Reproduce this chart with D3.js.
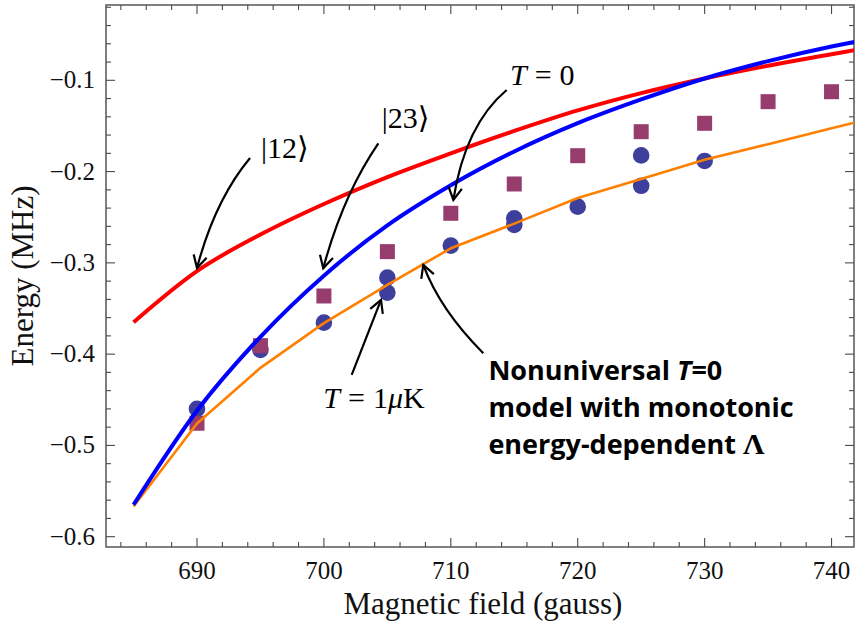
<!DOCTYPE html>
<html>
<head>
<meta charset="utf-8">
<script src="https://cdn.jsdelivr.net/npm/d3@7"></script>
<style>
  body { margin: 0; background: #fff; }
  svg { display: block; }
  .serif { font-family: "Liberation Serif", "Times New Roman", serif; }
</style>
</head>
<body>
<svg id="chart" width="855" height="630"></svg>
<script>
// ---------- data ----------
const xTickValues = [690, 700, 710, 720, 730, 740];
const yTickValues = [-0.6, -0.5, -0.4, -0.3, -0.2, -0.1];
const xTickLabels = ["690", "700", "710", "720", "730", "740"];
const yTickLabels = ["\u22120.6", "\u22120.5", "\u22120.4", "\u22120.3", "\u22120.2", "\u22120.1"];

// theory curves (field in gauss, energy in MHz)
const curveField = [685, 690, 695, 700, 705, 710, 715, 720, 725, 730, 735, 740, 741.8];
const energy12 = [-0.365, -0.309, -0.269, -0.2355, -0.206, -0.180, -0.1555, -0.133, -0.114, -0.098, -0.084, -0.0715, -0.067];
const energy23 = [-0.565, -0.462, -0.381, -0.314, -0.259, -0.215, -0.178, -0.147, -0.121, -0.098, -0.079, -0.063, -0.058];
const energyNonuniversal = [-0.567, -0.476, -0.415, -0.366, -0.324, -0.284, -0.257, -0.229, -0.208, -0.187, -0.170, -0.1526, -0.1464];

// data points
const fieldT1 = [690, 695, 700, 705, 705, 710, 715, 715, 720, 725, 725, 730];
const energyT1 = [-0.460, -0.3954, -0.3655, -0.3162, -0.3326, -0.2811, -0.2512, -0.2585, -0.2384, -0.1823, -0.2156, -0.1884];
const fieldT0 = [690, 695, 700, 705, 710, 715, 720, 725, 730, 735, 740];
const energyT0 = [-0.4757, -0.3907, -0.3363, -0.2877, -0.2457, -0.2136, -0.1826, -0.1563, -0.1471, -0.1234, -0.1125];

// ---------- layout ----------
const plot = { left: 106, right: 854, top: 5, bottom: 547 };
const xDomain = [682.83, 741.77];
const yDomain = [-0.6113, -0.0175];

const svg = d3.select("#chart");
const x = d3.scaleLinear().domain(xDomain).range([plot.left, plot.right]);
const y = d3.scaleLinear().domain(yDomain).range([plot.bottom, plot.top]);

svg.append("defs").append("clipPath").attr("id", "clip")
  .append("rect").attr("x", plot.left).attr("y", plot.top)
  .attr("width", plot.right - plot.left).attr("height", plot.bottom - plot.top);

// ---------- frame & ticks ----------
const frameColor = "#4a4a4a";
const axisG = svg.append("g");
axisG.append("rect")
  .attr("x", plot.left).attr("y", plot.top)
  .attr("width", plot.right - plot.left).attr("height", plot.bottom - plot.top)
  .attr("fill", "none").attr("stroke", frameColor).attr("stroke-width", 1.4);

const xMinor = d3.range(684, 742, 2).filter(v => v % 10 !== 0);
const yMinor = d3.range(-0.6, -0.015, 0.02).map(v => +v.toFixed(2)).filter(v => Math.abs(Math.round(v * 10) - v * 10) > 1e-6);

function xTick(v, len) {
  axisG.append("line").attr("x1", x(v)).attr("x2", x(v)).attr("y1", plot.bottom).attr("y2", plot.bottom - len)
    .attr("stroke", frameColor).attr("stroke-width", 1.1);
  axisG.append("line").attr("x1", x(v)).attr("x2", x(v)).attr("y1", plot.top).attr("y2", plot.top + len)
    .attr("stroke", frameColor).attr("stroke-width", 1.1);
}
function yTick(v, len) {
  axisG.append("line").attr("x1", plot.left).attr("x2", plot.left + len).attr("y1", y(v)).attr("y2", y(v))
    .attr("stroke", frameColor).attr("stroke-width", 1.1);
  axisG.append("line").attr("x1", plot.right).attr("x2", plot.right - len).attr("y1", y(v)).attr("y2", y(v))
    .attr("stroke", frameColor).attr("stroke-width", 1.1);
}
xTickValues.forEach(v => xTick(v, 9));
xMinor.forEach(v => xTick(v, 5));
yTickValues.forEach(v => yTick(v, 9));
yMinor.forEach(v => yTick(v, 5));

axisG.selectAll("text.xl").data(xTickValues).enter().append("text")
  .attr("class", "serif xl")
  .attr("x", d => x(d)).attr("y", 579)
  .attr("text-anchor", "middle").attr("font-size", 25).attr("fill", "#111")
  .text((d, i) => xTickLabels[i]);
axisG.selectAll("text.yl").data(yTickValues).enter().append("text")
  .attr("class", "serif yl")
  .attr("x", 95).attr("y", d => y(d) + 8)
  .attr("text-anchor", "end").attr("font-size", 25).attr("fill", "#111")
  .text((d, i) => yTickLabels[i]);

svg.append("text").attr("class", "serif").attr("x", 483).attr("y", 614).attr("text-anchor", "middle")
  .attr("font-size", 31).attr("fill", "#111").text("Magnetic field (gauss)");
svg.append("text").attr("class", "serif").attr("transform", "translate(33,276) rotate(-90)").attr("text-anchor", "middle")
  .attr("font-size", 31).attr("fill", "#111").text("Energy (MHz)");

// ---------- markers ----------
const markG = svg.append("g").attr("clip-path", "url(#clip)");
markG.selectAll("circle.t1").data(fieldT1.map((b, i) => [b, energyT1[i]])).enter().append("circle")
  .attr("cx", d => x(d[0])).attr("cy", d => y(d[1])).attr("r", 8.3).attr("fill", "#3e3e9c");
const sq = 15;
markG.selectAll("rect.t0").data(fieldT0.map((b, i) => [b, energyT0[i]])).enter().append("rect")
  .attr("x", d => x(d[0]) - sq / 2).attr("y", d => y(d[1]) - sq / 2).attr("width", sq).attr("height", sq)
  .attr("fill", "#963d6e");

// ---------- curves ----------
const lineG = svg.append("g").attr("clip-path", "url(#clip)");
const smooth = d3.line().x(d => x(d[0])).y(d => y(d[1])).curve(d3.curveMonotoneX);
const straight = d3.line().x(d => x(d[0])).y(d => y(d[1]));
lineG.append("path").attr("d", straight(curveField.map((b, i) => [b, energyNonuniversal[i]])))
  .attr("fill", "none").attr("stroke", "#ff8000").attr("stroke-width", 2.6).attr("stroke-linejoin", "round");
lineG.append("path").attr("d", smooth(curveField.map((b, i) => [b, energy12[i]])))
  .attr("fill", "none").attr("stroke", "#ff0000").attr("stroke-width", 4);
lineG.append("path").attr("d", smooth(curveField.map((b, i) => [b, energy23[i]])))
  .attr("fill", "none").attr("stroke", "#0000ff").attr("stroke-width", 4);

// ---------- annotations (positions in data units) ----------
const annG = svg.append("g");
function arrow(start, ctrl, tip) {
  const p0 = [x(start[0]), y(start[1])], p2 = [x(tip[0]), y(tip[1])];
  const p1 = ctrl ? [x(ctrl[0]), y(ctrl[1])] : [(p0[0] + p2[0]) / 2, (p0[1] + p2[1]) / 2];
  const p = d3.path();
  p.moveTo(p0[0], p0[1]);
  p.quadraticCurveTo(p1[0], p1[1], p2[0], p2[1]);
  annG.append("path").attr("d", p.toString()).attr("fill", "none").attr("stroke", "#000").attr("stroke-width", 2.2);
  const ang = Math.atan2(p2[1] - p1[1], p2[0] - p1[0]);
  const L = 14, a = 0.5;
  const h = d3.path();
  h.moveTo(p2[0] - L * Math.cos(ang - a), p2[1] - L * Math.sin(ang - a));
  h.lineTo(p2[0], p2[1]);
  h.lineTo(p2[0] - L * Math.cos(ang + a), p2[1] - L * Math.sin(ang + a));
  annG.append("path").attr("d", h.toString()).attr("fill", "none").attr("stroke", "#000")
    .attr("stroke-width", 2.2).attr("stroke-linejoin", "miter");
}
arrow([694.18, -0.1851], [691.42, -0.2311], [690.0, -0.3056]);
arrow([704.29, -0.169], [701.5, -0.2256], [699.95, -0.3059]);
arrow([714.4, -0.1106], [711.12, -0.149], [710.2, -0.2311]);
arrow([702.19, -0.4228], null, [704.5, -0.3406]);
arrow([712.56, -0.399], [709.15, -0.3516], [707.83, -0.3023]);

const annSerif = "'Liberation Serif', 'DejaVu Serif', serif";
annG.append("text").attr("x", x(695.04)).attr("y", y(-0.185)).attr("font-family", annSerif).attr("font-size", 30)
  .text("|12\u27E9");
annG.append("text").attr("x", x(704.55)).attr("y", y(-0.1523)).attr("font-family", annSerif).attr("font-size", 30)
  .text("|23\u27E9");
const t0 = annG.append("text").attr("x", x(714.66)).attr("y", y(-0.1051)).attr("font-family", annSerif).attr("font-size", 30);
t0.append("tspan").attr("font-style", "italic").text("T");
t0.append("tspan").attr("dx", 8).text("=");
t0.append("tspan").attr("dx", 8).text("0");
const t1 = annG.append("text").attr("x", x(699.95)).attr("y", y(-0.4589)).attr("font-family", annSerif).attr("font-size", 30);
t1.append("tspan").attr("font-style", "italic").text("T");
t1.append("tspan").attr("dx", 8).text("=");
t1.append("tspan").attr("dx", 8).text("1");
t1.append("tspan").attr("font-style", "italic").text("\u03BC");
t1.append("tspan").text("K");

const sans = "'Open Sans', 'Noto Sans', sans-serif";
const nx = x(712.96);
const l1 = annG.append("text").attr("x", nx).attr("y", y(-0.4283)).attr("font-family", sans).attr("font-weight", "bold").attr("font-size", 27);
l1.append("tspan").text("Nonuniversal ");
l1.append("tspan").attr("font-style", "italic").text("T");
l1.append("tspan").text("=0");
annG.append("text").attr("x", nx).attr("y", y(-0.4688)).attr("font-family", sans).attr("font-weight", "bold").attr("font-size", 27)
  .text("model with monotonic");
const l3 = annG.append("text").attr("x", nx).attr("y", y(-0.5093)).attr("font-family", sans).attr("font-weight", "bold").attr("font-size", 27);
l3.append("tspan").text("energy-dependent ");
l3.append("tspan").attr("font-family", annSerif).attr("font-size", 30).text("\u039B");
</script>
</body>
</html>
